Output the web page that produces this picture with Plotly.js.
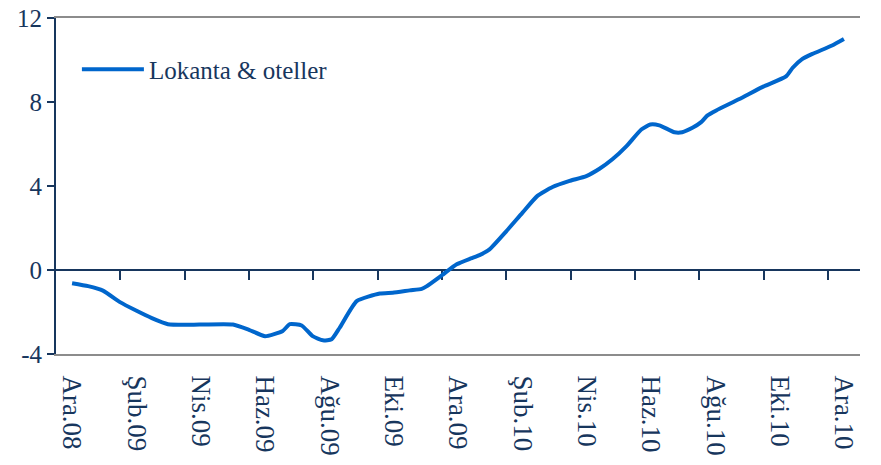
<!DOCTYPE html>
<html>
<head>
<meta charset="utf-8">
<script src="https://cdn.plot.ly/plotly-3.0.1.min.js"></script>
<style>html,body{margin:0;padding:0;background:#fff;}#chart{width:881px;height:465px;}</style>
</head>
<body>
<div id="chart"></div>
<script>
// months since Ara.08 (Dec 2008)
var months = [0, 0.5, 0.96, 1.49, 1.99, 2.48, 2.98, 3.98, 5.0, 5.5, 6.0, 6.55, 6.77, 7.14, 7.48, 7.8, 8.07, 8.32, 8.85, 9.57, 9.97, 10.5, 10.87, 11.02, 11.5, 11.96, 12.4, 12.67, 12.98, 13.5, 14.0, 14.47, 14.94, 15.47, 15.99, 16.4, 16.8, 17.24, 17.7, 17.98, 18.26, 18.73, 18.97, 19.29, 19.56, 19.75, 20.03, 20.75, 21.46, 22.2, 22.4, 22.7, 23.02, 23.63, 24.0];
var values = [-0.63, -0.77, -0.98, -1.53, -1.93, -2.29, -2.58, -2.6, -2.6, -2.85, -3.15, -2.9, -2.58, -2.64, -3.15, -3.35, -3.3, -2.75, -1.48, -1.12, -1.08, -0.97, -0.9, -0.78, -0.25, 0.27, 0.55, 0.71, 0.98, 1.84, 2.72, 3.53, 3.95, 4.24, 4.47, 4.82, 5.27, 5.9, 6.69, 6.93, 6.89, 6.56, 6.56, 6.77, 7.04, 7.35, 7.6, 8.14, 8.71, 9.22, 9.62, 10.04, 10.29, 10.69, 11.0];
var tickLabels = ["Ara.08", "Şub.09", "Nis.09", "Haz.09", "Ağu.09", "Eki.09", "Ara.09", "Şub.10", "Nis.10", "Haz.10", "Ağu.10", "Eki.10", "Ara.10"];
var labelPos = tickLabels.map(function (_, i) { return i * 2; });
var tickPos = [1.5, 3.5, 5.5, 7.5, 9.5, 11.5, 13.5, 15.5, 17.5, 19.5, 21.5, 23.5];
var yTickVals = [-4, 0, 4, 8, 12];
var yTickText = ["-4", "0", "4", "8", "12"];
var seriesName = "Lokanta & oteller";

var navy = "#17365D";
var gray = "#8C8C8C";
var serif = "'Liberation Serif', 'Times New Roman', 'DejaVu Serif', serif";
var xr = [-0.5, 24.5];
var yr = [-4, 12];

var trace = {
  x: months, y: values, type: "scatter", mode: "lines", name: seriesName,
  line: {color: "#0066CC", width: 4, shape: "spline", smoothing: 0.5}
};
// empty trace so the zero-line axis (x2) gets drawn
var axisHolder = {x: [], y: [], type: "scatter", mode: "lines", xaxis: "x2", yaxis: "y",
  showlegend: false, hoverinfo: "skip"};

var layout = {
  width: 881, height: 465,
  margin: {l: 56, r: 21, t: 18, b: 111},
  paper_bgcolor: "#fff", plot_bgcolor: "#fff",
  font: {family: serif, color: navy},
  showlegend: true,
  legend: {x: 0.026, y: 0.915, xanchor: "left", yanchor: "top", bgcolor: "rgba(0,0,0,0)",
           font: {family: serif, size: 25, color: navy}, itemwidth: 62},
  xaxis: {
    range: xr, showgrid: false, zeroline: false,
    tickmode: "array", tickvals: labelPos, ticktext: tickLabels, ticks: "",
    tickangle: 90, tickfont: {family: serif, size: 27, color: navy},
    ticklabelstandoff: 14,
    showline: true, linecolor: gray, linewidth: 2, mirror: true
  },
  xaxis2: {
    range: xr, overlaying: "x", anchor: "free", position: 0.25, side: "bottom",
    showgrid: false, zeroline: false, showticklabels: false,
    tickmode: "array", tickvals: tickPos, ticks: "outside", ticklen: 9, tickwidth: 2, tickcolor: navy,
    showline: true, linecolor: navy, linewidth: 2, layer: "below traces"
  },
  yaxis: {
    range: yr, tickmode: "array", tickvals: yTickVals, ticktext: yTickText, showgrid: false, zeroline: false,
    ticks: "outside", ticklen: 7, tickwidth: 2, tickcolor: navy,
    tickfont: {family: serif, size: 25, color: navy},
    showline: true, linecolor: navy, linewidth: 2
  },
  yaxis2: {
    range: yr, overlaying: "y", side: "right", showgrid: false, zeroline: false,
    showticklabels: false, ticks: "", showline: true, linecolor: gray, linewidth: 2
  }
};

Plotly.newPlot("chart", [trace, axisHolder], layout, {displayModeBar: false, staticPlot: true});
</script>
</body>
</html>
